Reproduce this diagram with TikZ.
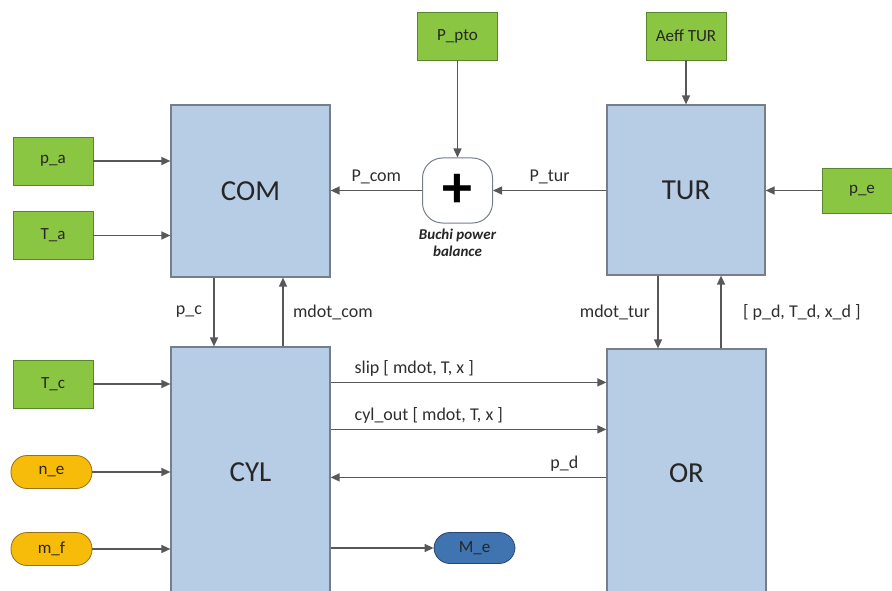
\documentclass[tikz,border=0pt]{standalone}
\usepackage{fontspec}
\setmainfont{Carlito}
\usetikzlibrary{arrows.meta,positioning}
\definecolor{blockblue}{RGB}{183,205,229}
\definecolor{blockedge}{RGB}{118,126,138}
\definecolor{ingreen}{RGB}{138,198,66}
\definecolor{greenedge}{RGB}{88,134,44}
\definecolor{cmdorange}{RGB}{247,187,10}
\definecolor{orangeedge}{RGB}{150,112,20}
\definecolor{outblue}{RGB}{64,116,176}
\definecolor{outedge}{RGB}{40,70,112}
\definecolor{linegrey}{RGB}{88,88,88}

\begin{document}
\begin{tikzpicture}[x=1pt,y=-1pt,
  block/.style={draw=blockedge, line width=1.2pt, fill=blockblue, minimum width=159pt,
    font=\fontsize{29}{32}\selectfont, text=black!85},
  invar/.style={draw=greenedge, line width=0.8pt, fill=ingreen, minimum width=80pt,
    minimum height=48pt, font=\fontsize{17}{20}\selectfont, text=black!85},
  cmdvar/.style={draw=orangeedge, line width=0.8pt, fill=cmdorange, rounded corners=16pt,
    minimum width=81pt, minimum height=33pt, font=\fontsize{17}{20}\selectfont, text=black!85},
  conn/.style={draw=linegrey, line width=1.4pt, -{Triangle[length=9pt,width=8pt]}},
  lbl/.style={font=\fontsize{18}{21}\selectfont, text=black!82}
]
\useasboundingbox (0,0) rectangle (892,591);

% Main blocks
\node[block, minimum height=172pt] (COM) at (250.5,191) {COM};
\node[block, minimum height=170pt, minimum width=158pt] (TUR) at (686,190) {TUR};
\node[block, minimum height=251pt] (CYL) at (250.5,472.5) {CYL};
\node[block, minimum height=249pt] (OR) at (686.5,473.5) {OR};

% Power balance
\node[draw=blockedge, line width=1pt, fill=white, rounded corners=20pt,
  minimum width=70pt, minimum height=65pt,
  font=\fontsize{60}{60}\selectfont\bfseries] (plus) at (457.5,190.5) {+};
\node[below=2pt of plus, align=center, text=black!85,
  font=\fontsize{15}{17}\selectfont\bfseries\itshape] (buchi) {Buchi power\\balance};

% Inputs
\node[invar] (p_a) at (53,161) {p\_a};
\node[invar] (T_a) at (53,235.5) {T\_a};
\node[invar] (T_c) at (53,384) {T\_c};
\node[invar] (P_pto) at (457.5,36) {P\_pto};
\node[invar] (Aeff) at (686,36) {Aeff TUR};
\node[invar, minimum height=45pt] (p_e) at (862,190.5) {p\_e};
\node[cmdvar] (n_e) at (51.5,472) {n\_e};
\node[cmdvar] (m_f) at (51.5,549) {m\_f};

% Output
\node[cmdvar, draw=outedge, fill=outblue, minimum width=81pt, minimum height=31pt] (M_e) at (474.5,548) {M\_e};

% Connections around COM
\draw[conn] (p_a.east) -- (p_a -| COM.west);
\draw[conn] (T_a.east) -- (T_a -| COM.west);
\draw[conn] (plus.west) -- node[lbl, above=3pt] {P\_com} (plus -| COM.east);
\draw[conn] (P_pto.south) -- (plus.north);
\draw[conn] (TUR.west |- plus) -- node[lbl, above=3pt] {P\_tur} (plus.east);

% Connections around TUR
\draw[conn] (Aeff.south) -- (TUR.north);
\draw[conn] (p_e.west) -- (p_e -| TUR.east);
\draw[conn] ([xshift=-28pt]TUR.south) -- node[lbl, left=4pt] {mdot\_tur} ([xshift=-28pt]TUR.south |- OR.north);
\draw[conn] ([xshift=35pt]TUR.south |- OR.north) -- node[lbl, right=18pt] {[ p\_d, T\_d, x\_d ]} ([xshift=35pt]TUR.south);

% COM - CYL
\draw[conn] ([xshift=-36.5pt]COM.south) -- node[lbl, left=8pt] {p\_c} ([xshift=-36.5pt]CYL.north);
\draw[conn] ([xshift=32.5pt]CYL.north) -- node[lbl, right=6pt] {mdot\_com} ([xshift=32.5pt]COM.south);

% CYL inputs and outputs
\draw[conn] (T_c.east) -- (T_c -| CYL.west);
\draw[conn] (n_e.east) -- (n_e -| CYL.west);
\draw[conn] (m_f.east) -- (m_f -| CYL.west);
\draw[conn] (CYL.east |- M_e) -- (M_e.west);
\draw[conn] ([yshift=-36pt]CYL.north east) -- node[lbl, pos=0, anchor=south west, xshift=20pt, yshift=2pt] {slip [ mdot, T, x ]} ([yshift=-36pt]CYL.north east -| OR.west);
\draw[conn] ([yshift=-83pt]CYL.north east) -- node[lbl, pos=0, anchor=south west, xshift=20pt, yshift=2pt] {cyl\_out [ mdot, T, x ]} ([yshift=-83pt]CYL.north east -| OR.west);
\draw[conn] ([yshift=-131pt]CYL.north east -| OR.west) -- node[lbl, pos=0, anchor=south east, xshift=-24pt, yshift=2pt] {p\_d} ([yshift=-131pt]CYL.north east);
\end{tikzpicture}
\end{document}
